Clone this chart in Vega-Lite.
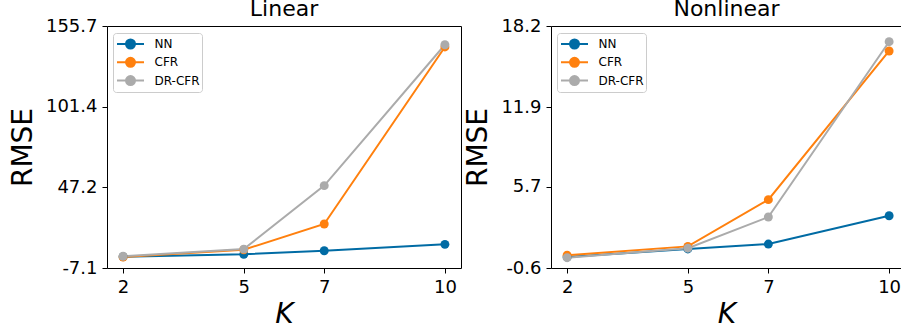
{
  "$schema": "https://vega.github.io/schema/vega-lite/v6.json",
  "padding": {"left": 8, "top": -3, "right": -1, "bottom": 0},
  "config": {
    "font": "DejaVu Sans",
    "view": {"stroke": "#000", "strokeWidth": 1},
    "axis": {"grid": false, "domain": false, "tickColor": "#000", "tickSize": 5, "tickWidth": 1, "labelColor": "#000", "labelFontSize": 18, "labelFont": "DejaVu Sans", "titleFont": "DejaVu Sans", "titleFontSize": 28, "titleFontWeight": "normal", "titleColor": "#000", "labelPadding": 5},
    "axisY": {"titlePadding": 8, "labelExpr": "replace(datum.label, '\u2212', '-')"},
    "axisX": {"labelFlush": false, "titlePadding": 4},
    "title": {"fontSize": 22, "fontWeight": "normal", "color": "#000", "font": "DejaVu Sans", "anchor": "middle", "baseline": "alphabetic", "offset": -4},
    "concat": {"spacing": 2},
    "legend": {"labelFontSize": 12, "labelColor": "#000", "labelFont": "DejaVu Sans"}
  },
  "datasets": {
    "lin": [
      {"K": 2, "model": "NN", "RMSE": 0.5},
      {"K": 5, "model": "NN", "RMSE": 2.1},
      {"K": 7, "model": "NN", "RMSE": 4.5},
      {"K": 10, "model": "NN", "RMSE": 8.8},
      {"K": 2, "model": "CFR", "RMSE": 0.3},
      {"K": 5, "model": "CFR", "RMSE": 5.2},
      {"K": 7, "model": "CFR", "RMSE": 22.5},
      {"K": 10, "model": "CFR", "RMSE": 141.6},
      {"K": 2, "model": "DR-CFR", "RMSE": 0.8},
      {"K": 5, "model": "DR-CFR", "RMSE": 5.6},
      {"K": 7, "model": "DR-CFR", "RMSE": 48.3},
      {"K": 10, "model": "DR-CFR", "RMSE": 143.1}
    ],
    "non": [
      {"K": 2, "model": "NN", "RMSE": 0.25},
      {"K": 5, "model": "NN", "RMSE": 0.88},
      {"K": 7, "model": "NN", "RMSE": 1.26},
      {"K": 10, "model": "NN", "RMSE": 3.46},
      {"K": 2, "model": "CFR", "RMSE": 0.39},
      {"K": 5, "model": "CFR", "RMSE": 1.08},
      {"K": 7, "model": "CFR", "RMSE": 4.71},
      {"K": 10, "model": "CFR", "RMSE": 16.26},
      {"K": 2, "model": "DR-CFR", "RMSE": 0.2},
      {"K": 5, "model": "DR-CFR", "RMSE": 0.94},
      {"K": 7, "model": "DR-CFR", "RMSE": 3.36},
      {"K": 10, "model": "DR-CFR", "RMSE": 16.98}
    ]
  },
  "hconcat": [
    {
      "title": "Linear",
      "width": 354,
      "height": 242,
      "data": {"name": "lin"},
      "encoding": {
        "x": {"field": "K", "type": "quantitative", "scale": {"domain": [1.6, 10.4], "nice": false, "zero": false}, "axis": {"values": [2, 5, 7, 10], "title": "K", "titleFontStyle": "italic"}},
        "y": {"field": "RMSE", "type": "quantitative", "scale": {"domain": [-7.1, 155.7], "nice": false, "zero": false}, "axis": {"values": [-7.1, 47.2, 101.4, 155.7], "format": ".1f", "title": "RMSE"}},
        "color": {"field": "model", "type": "nominal", "scale": {"domain": ["NN", "CFR", "DR-CFR"], "range": ["#006BA4", "#FF800E", "#ABABAB"]},
          "legend": {"orient": "none", "legendX": 6, "legendY": 7, "title": null,
            "symbolType": "M-1.6875,0L1.6875,0M-0.5625,0A0.5625,0.5625 0 1,1 0.5625,0A0.5625,0.5625 0 1,1 -0.5625,0Z",
            "symbolSize": 256, "symbolStrokeWidth": 2, "symbolOffset": 6.5, "labelOffset": 15, "padding": 2, "rowPadding": 0.3,
            "strokeColor": "#cccccc", "fillColor": "rgba(255,255,255,0.8)", "cornerRadius": 3, "symbolOpacity": 1,
            "encode": {"symbols": {"update": {"fill": {"scale": "color", "field": "value"}, "stroke": {"scale": "color", "field": "value"}, "opacity": {"value": 1}}}}}}
      },
      "layer": [
        {"mark": {"type": "line", "strokeWidth": 2}},
        {"mark": {"type": "point", "filled": true, "size": 80, "opacity": 1}}
      ]
    },
    {
      "title": "Nonlinear",
      "width": 351,
      "height": 242,
      "data": {"name": "non"},
      "encoding": {
        "x": {"field": "K", "type": "quantitative", "scale": {"domain": [1.6, 10.32], "nice": false, "zero": false}, "axis": {"values": [2, 5, 7, 10], "title": "K", "titleFontStyle": "italic"}},
        "y": {"field": "RMSE", "type": "quantitative", "scale": {"domain": [-0.6, 18.2], "nice": false, "zero": false}, "axis": {"values": [-0.6, 5.7, 11.9, 18.2], "format": ".1f", "title": "RMSE"}},
        "color": {"field": "model", "type": "nominal", "scale": {"domain": ["NN", "CFR", "DR-CFR"], "range": ["#006BA4", "#FF800E", "#ABABAB"]},
          "legend": {"orient": "none", "legendX": 6, "legendY": 7, "title": null,
            "symbolType": "M-1.6875,0L1.6875,0M-0.5625,0A0.5625,0.5625 0 1,1 0.5625,0A0.5625,0.5625 0 1,1 -0.5625,0Z",
            "symbolSize": 256, "symbolStrokeWidth": 2, "symbolOffset": 6.5, "labelOffset": 15, "padding": 2, "rowPadding": 0.3,
            "strokeColor": "#cccccc", "fillColor": "rgba(255,255,255,0.8)", "cornerRadius": 3, "symbolOpacity": 1,
            "encode": {"symbols": {"update": {"fill": {"scale": "color", "field": "value"}, "stroke": {"scale": "color", "field": "value"}, "opacity": {"value": 1}}}}}}
      },
      "layer": [
        {"mark": {"type": "line", "strokeWidth": 2}},
        {"mark": {"type": "point", "filled": true, "size": 80, "opacity": 1}}
      ]
    }
  ],
  "resolve": {"legend": {"color": "independent"}}
}
